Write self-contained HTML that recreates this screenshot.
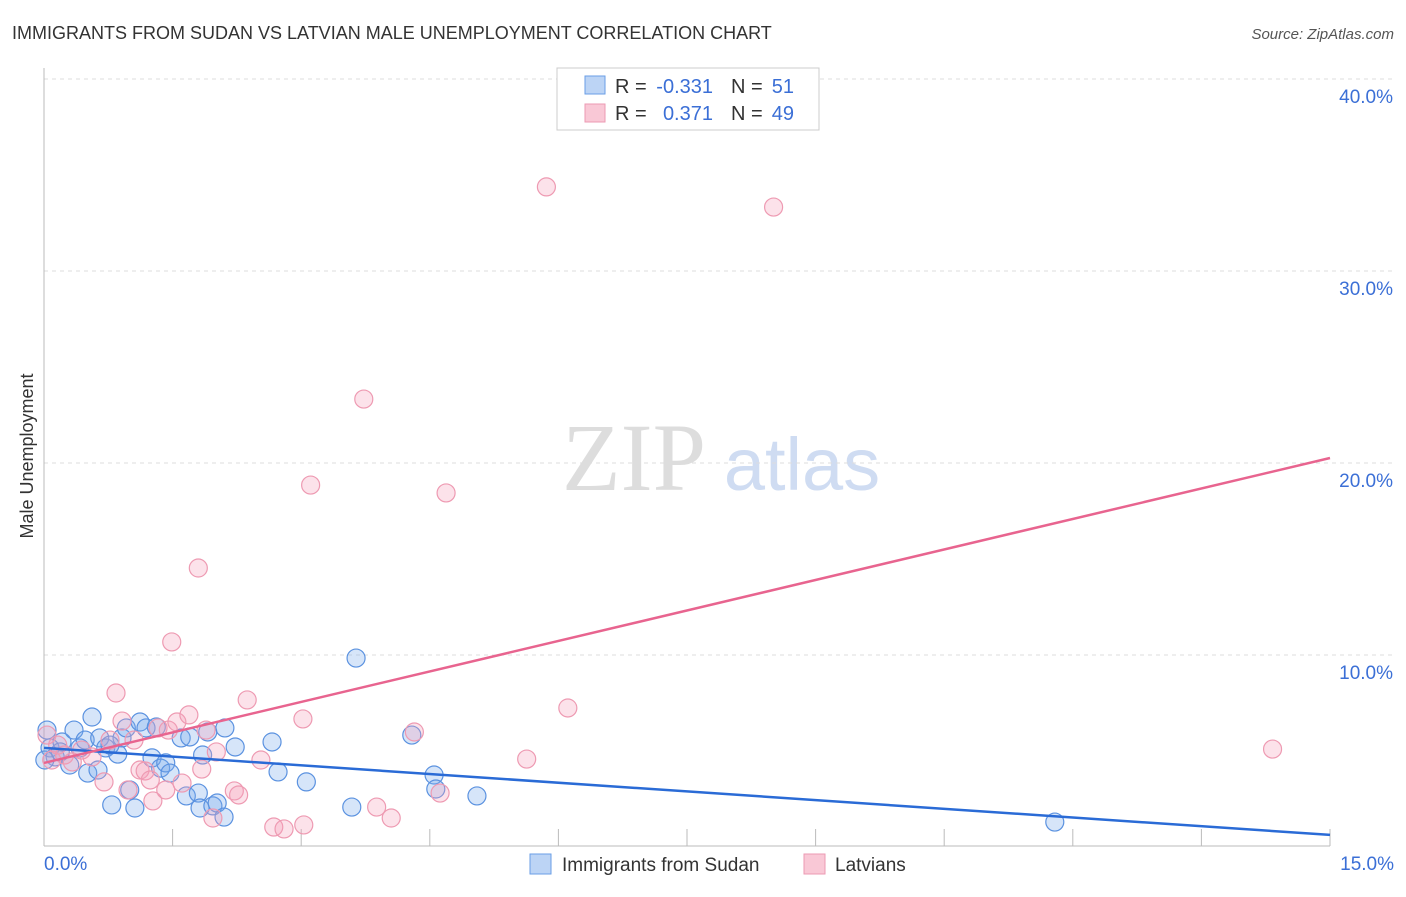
<!DOCTYPE html>
<html><head><meta charset="utf-8"><style>
body{margin:0;background:#fff;font-family:"Liberation Sans",sans-serif}
svg text{font-family:"Liberation Sans",sans-serif}
</style></head><body>
<svg width="1406" height="892" id="c">
<text x="12" y="39" font-size="18" fill="#333">IMMIGRANTS FROM SUDAN VS LATVIAN MALE UNEMPLOYMENT CORRELATION CHART</text>
<text x="1394" y="39" font-size="15" fill="#555" font-style="italic" text-anchor="end">Source: ZipAtlas.com</text>
<text x="33" y="456" font-size="18" fill="#333" text-anchor="middle" transform="rotate(-90 33 456)">Male Unemployment</text>
<text x="634" y="490" font-size="96" fill="#ddd" text-anchor="middle" style="font-family:'Liberation Serif',serif">ZIP</text>
<text x="802" y="490" font-size="74" fill="#cfdcf2" text-anchor="middle">atlas</text>
<g id="grid"></g><g id="pts"></g><g id="lines"></g>
<g font-size="20">
<rect x="557" y="68" width="262" height="62" fill="#fff" stroke="#ccc"/>
<rect x="585" y="76" width="20" height="18" fill="#bcd4f5" stroke="#6a9ee6"/>
<rect x="585" y="104" width="20" height="18" fill="#f9c8d6" stroke="#ec9ab3"/>
<text x="615" y="93" fill="#333">R =</text><text x="713" y="93" fill="#3b6fd6" text-anchor="end">-0.331</text>
<text x="731" y="93" fill="#333">N =</text><text x="794" y="93" fill="#3b6fd6" text-anchor="end">51</text>
<text x="615" y="120" fill="#333">R =</text><text x="713" y="120" fill="#3b6fd6" text-anchor="end">0.371</text>
<text x="731" y="120" fill="#333">N =</text><text x="794" y="120" fill="#3b6fd6" text-anchor="end">49</text>
</g>
<g>
<rect x="530" y="854" width="21" height="20" fill="#bcd4f5" stroke="#6a9ee6"/>
<text x="562" y="871" font-size="19" fill="#333">Immigrants from Sudan</text>
<rect x="804" y="854" width="21" height="20" fill="#f9c8d6" stroke="#ec9ab3"/>
<text x="835" y="871" font-size="19" fill="#333">Latvians</text>
</g>
</svg>
<script>
const yTicks=[10,20,30,40];
const xTickLabels=["0.0%","15.0%"];
const blueX=[0.035,0.07,0.13,0.21,0.30,0.35,0.42,0.48,0.51,0.56,0.63,0.65,0.72,0.79,0.86,0.91,0.96,1.00,1.06,1.12,1.19,1.26,1.31,1.36,1.42,1.47,1.60,1.66,1.70,1.80,1.82,1.85,1.91,1.97,2.02,2.10,2.11,2.23,2.66,2.73,3.06,3.59,3.64,4.29,4.55,4.57,5.05,11.79,0.01,0.19,0.77];
const blueY=[6.09,5.16,4.69,5.47,4.27,6.09,5.16,5.57,3.85,6.77,4.01,5.68,5.16,2.19,4.84,5.68,6.20,2.97,2.03,6.51,6.20,4.64,6.25,4.11,4.38,3.85,5.68,2.66,5.73,2.81,2.03,4.79,5.99,2.14,2.29,1.56,6.20,5.21,5.47,3.91,3.39,2.08,9.84,5.83,3.75,3.02,2.66,1.30,4.53,4.95,5.31];
const pinkX=[0.035,0.09,0.16,0.24,0.33,0.44,0.56,0.70,0.77,0.84,0.91,0.98,1.05,1.12,1.18,1.24,1.27,1.33,1.42,1.45,1.49,1.55,1.61,1.69,1.80,1.84,1.89,1.97,2.01,2.22,2.27,2.37,2.53,2.68,2.80,3.02,3.03,3.11,3.73,3.88,4.05,4.32,4.62,4.69,5.63,5.86,6.11,8.51,14.33];
const pinkY=[5.83,4.53,5.31,4.79,4.43,5.05,4.69,3.39,5.57,8.02,6.56,2.97,5.57,4.01,3.96,3.49,2.40,6.20,2.97,6.09,10.68,6.51,3.33,6.88,14.53,4.06,6.09,1.51,4.95,2.92,2.71,7.66,4.53,1.04,0.94,6.67,1.15,18.85,23.33,2.08,1.51,5.99,2.81,18.44,4.58,34.38,7.24,33.33,5.10];
const blueTrend=[5.16,0.63];
const pinkTrend=[4.38,20.26];
const X=v=>44+v*1286/15, Y=v=>847-v*19.2;
const NS="http://www.w3.org/2000/svg";
function mk(t,a,p){const e=document.createElementNS(NS,t);for(const k in a)e.setAttribute(k,a[k]);p.appendChild(e);return e;}
const g=document.getElementById('grid');
yTicks.forEach(t=>{
 const l=mk('line',{x1:44,x2:1393,y1:Y(t),y2:Y(t),stroke:'#ddd','stroke-dasharray':'4,4'},g);
 
 
 const tx=mk('text',{x:1393,y:Y(t)+24,'font-size':19,fill:'#3b6fd6','text-anchor':'end'},g);
 tx.textContent=t.toFixed(1)+'%';
 
 
});
const ax=mk('line',{x1:44,x2:1330,y1:846,y2:846,stroke:'#bbb'},g);


const ay=mk('line',{x1:44,x2:44,y1:68,y2:846,stroke:'#bbb'},g);


for(let i=1;i<=10;i++){const t=mk('line',{x1:X(i*1.5),x2:X(i*1.5),y1:829,y2:846,stroke:'#bbb'},g);
 
 }
[[0,'start',44],[15,'end',1394]].forEach((d,i)=>{const t=mk('text',{x:d[2],y:870,'font-size':19,fill:'#3b6fd6','text-anchor':d[1]},g);t.textContent=xTickLabels[i];
 
 });
const p=document.getElementById('pts');
blueX.forEach((x,i)=>{const c=mk('circle',{cx:X(x),cy:Y(blueY[i]),r:9,fill:'rgba(120,170,235,0.3)',stroke:'#5b92e0','stroke-width':1.2},p);
 
 });
pinkX.forEach((x,i)=>{const c=mk('circle',{cx:X(x),cy:Y(pinkY[i]),r:9,fill:'rgba(245,160,185,0.3)',stroke:'#ee9ab2','stroke-width':1.2},p);
 
 });
const L=document.getElementById('lines');
const bl=mk('line',{x1:X(0),y1:Y(blueTrend[0]),x2:X(15),y2:Y(blueTrend[1]),stroke:'#2a6bd6','stroke-width':2.5},L);


const pl=mk('line',{x1:X(0),y1:Y(pinkTrend[0]),x2:X(15),y2:Y(pinkTrend[1]),stroke:'#e8648f','stroke-width':2.5},L);


</script>
</body></html>
